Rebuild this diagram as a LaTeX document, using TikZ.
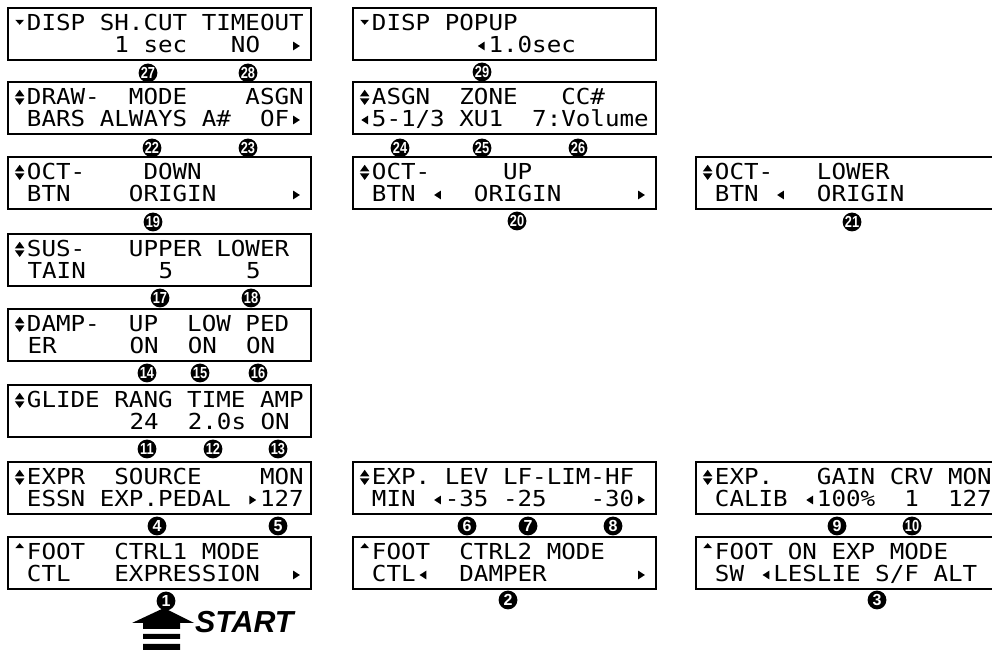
\documentclass[tikz,border=0pt]{standalone}
\usepackage{fontspec}
\usepackage{graphicx}
\newfontfamily\lcdfont[FakeStretch=1.1]{DejaVu Sans Mono}
\newfontfamily\labfont{Liberation Sans}
\newcommand\cellbox[1]{\setbox0\hbox{0}\hbox to\wd0{\hss#1\hss}}
\newcommand\lcddn{\cellbox{\tikz[x=1pt,y=1pt,baseline=0pt]\fill (-2.2,5.6)--(2.2,5.6)--(0,3.1)--cycle;}}
\newcommand\lcdup{\cellbox{\tikz[x=1pt,y=1pt,baseline=0pt]\fill (-2.2,5.9)--(2.2,5.9)--(0,8.4)--cycle;}}
\newcommand\lcdud{\cellbox{\tikz[x=1pt,y=1pt,baseline=0pt]{\fill (-2.4,4.3)--(2.4,4.3)--(0,7.6)--cycle;\fill (-2.4,3.3)--(2.4,3.3)--(0,0)--cycle;}}}
\newcommand\lcdl{\cellbox{\tikz[x=1pt,y=1pt,baseline=0pt]\fill (1.7,1.3)--(1.7,5.7)--(-1.7,3.5)--cycle;}}
\newcommand\lcdr{\cellbox{\tikz[x=1pt,y=1pt,baseline=0pt]\fill (-1.7,1.3)--(-1.7,5.7)--(1.7,3.5)--cycle;}}
\newcommand\nn[1]{\scalebox{.8}[1]{#1}}
\begin{document}
\begin{tikzpicture}[x=0.5pt,y=-0.5pt,line width=1pt,
  box/.style={draw,anchor=north west,minimum width=151.5pt,minimum height=26pt,inner sep=0pt},
  lcd/.style={anchor=base west,inner sep=0pt,font=\lcdfont\fontsize{11}{11}\selectfont},
  num/.style={circle,fill=black,text=white,inner sep=0pt,minimum size=9.4pt,font=\labfont\bfseries\fontsize{8}{8}\selectfont}]
\useasboundingbox (0,0) rectangle (992,651);\clip (0,0) rectangle (992,651);
\node[box] (sc) at (7,7) {};\node[lcd] (sc1) at (12,31) {\lcddn DISP~SH.CUT~TIMEOUT};\node[lcd] (sc2) at (12,53) {~~~~~~~1~sec~~~NO~~\lcdr};
\node[box] (db) at (7,81) {};\node[lcd] (db1) at (12,105) {\lcdud DRAW-~~MODE~~~~ASGN};\node[lcd] (db2) at (12,127) {~BARS~ALWAYS~A\#~~OF\lcdr};
\node[box] (od) at (7,156) {};\node[lcd] (od1) at (12,180) {\lcdud OCT-~~~~DOWN};\node[lcd] (od2) at (12,202) {~BTN~~~~ORIGIN~~~~~\lcdr};
\node[box] (su) at (7,233) {};\node[lcd] (su1) at (12,257) {\lcdud SUS-~~~UPPER~LOWER};\node[lcd] (su2) at (12,279) {~TAIN~~~~~5~~~~~5};
\node[box] (dm) at (7,308) {};\node[lcd] (dm1) at (12,332) {\lcdud DAMP-~~UP~~LOW~PED};\node[lcd] (dm2) at (12,354) {~ER~~~~~ON~~ON~~ON};
\node[box] (gl) at (7,384) {};\node[lcd] (gl1) at (12,408) {\lcdud GLIDE~RANG~TIME~AMP};\node[lcd] (gl2) at (12,430) {~~~~~~~~24~~2.0s~ON};
\node[box] (ex) at (7,461) {};\node[lcd] (ex1) at (12,485) {\lcdud EXPR~~SOURCE~~~~MON};\node[lcd] (ex2) at (12,507) {~ESSN~EXP.PEDAL~\lcdr 127};
\node[box] (fa) at (7,536) {};\node[lcd] (fa1) at (12,560) {\lcdup FOOT~~CTRL1~MODE};\node[lcd] (fa2) at (12,582) {~CTL~~~EXPRESSION~~\lcdr};
\node[box] (pp) at (352,7) {};\node[lcd] (pp1) at (357,31) {\lcddn DISP~POPUP};\node[lcd] (pp2) at (357,53) {~~~~~~~~\lcdl 1.0sec};
\node[box] (as) at (352,81) {};\node[lcd] (as1) at (357,105) {\lcdud ASGN~~ZONE~~~CC\#};\node[lcd] (as2) at (357,127) {\lcdl 5-1/3~XU1~~7:Volume};
\node[box] (ou) at (352,156) {};\node[lcd] (ou1) at (357,180) {\lcdud OCT-~~~~~UP};\node[lcd] (ou2) at (357,202) {~BTN~\lcdl~~ORIGIN~~~~~\lcdr};
\node[box] (lv) at (352,461) {};\node[lcd] (lv1) at (357,485) {\lcdud EXP.~LEV~LF-LIM-HF};\node[lcd] (lv2) at (357,507) {~MIN~\lcdl-35~-25~~~-30\lcdr};
\node[box] (fb) at (352,536) {};\node[lcd] (fb1) at (357,560) {\lcdup FOOT~~CTRL2~MODE};\node[lcd] (fb2) at (357,582) {~CTL\lcdl~~DAMPER~~~~~~\lcdr};
\node[box] (ol) at (695,156) {};\node[lcd] (ol1) at (700,180) {\lcdud OCT-~~~LOWER};\node[lcd] (ol2) at (700,202) {~BTN~\lcdl~~ORIGIN};
\node[box] (ca) at (695,461) {};\node[lcd] (ca1) at (700,485) {\lcdud EXP.~~~GAIN~CRV~MON};\node[lcd] (ca2) at (700,507) {~CALIB~\lcdl 100\%~~1~~127};
\node[box] (fc) at (695,536) {};\node[lcd] (fc1) at (700,560) {\lcdup FOOT~ON~EXP~MODE};\node[lcd] (fc2) at (700,582) {~SW~\lcdl LESLIE~S/F~ALT};
\fill (132,623)--(164,608)--(194,623)--cycle;\fill (143,622) rectangle (180,629) (143,634) rectangle (180,639) (143,644) rectangle (180,650);
\node[anchor=base west,inner sep=0pt,font=\labfont\bfseries\itshape\fontsize{15.2}{16}\selectfont] (start) at (194,633) {START};
\node[num] (n1) at (166,601) {1};\node[num] (n2) at (508,600) {2};\node[num] (n3) at (877,600) {3};
\node[num] (n4) at (157,526) {4};\node[num] (n5) at (278,526) {5};\node[num] (n6) at (467,526) {6};\node[num] (n7) at (528,526) {7};
\node[num] (n8) at (613,526) {8};\node[num] (n9) at (837,526) {9};\node[num] (n10) at (912,526) {\nn{10}};
\node[num] (n11) at (147,449) {\nn{11}};\node[num] (n12) at (213,449) {\nn{12}};\node[num] (n13) at (278,449) {\nn{13}};
\node[num] (n14) at (147,373) {\nn{14}};\node[num] (n15) at (200,373) {\nn{15}};\node[num] (n16) at (258,373) {\nn{16}};
\node[num] (n17) at (160,298) {\nn{17}};\node[num] (n18) at (251,298) {\nn{18}};
\node[num] (n19) at (153,222) {\nn{19}};\node[num] (n20) at (517,221) {\nn{20}};\node[num] (n21) at (852,222) {\nn{21}};
\node[num] (n22) at (152,148) {\nn{22}};\node[num] (n23) at (248,148) {\nn{23}};\node[num] (n24) at (400,148) {\nn{24}};
\node[num] (n25) at (482,148) {\nn{25}};\node[num] (n26) at (578,148) {\nn{26}};
\node[num] (n27) at (148,73) {\nn{27}};\node[num] (n28) at (248,73) {\nn{28}};\node[num] (n29) at (482,72) {\nn{29}};
\end{tikzpicture}
\end{document}
